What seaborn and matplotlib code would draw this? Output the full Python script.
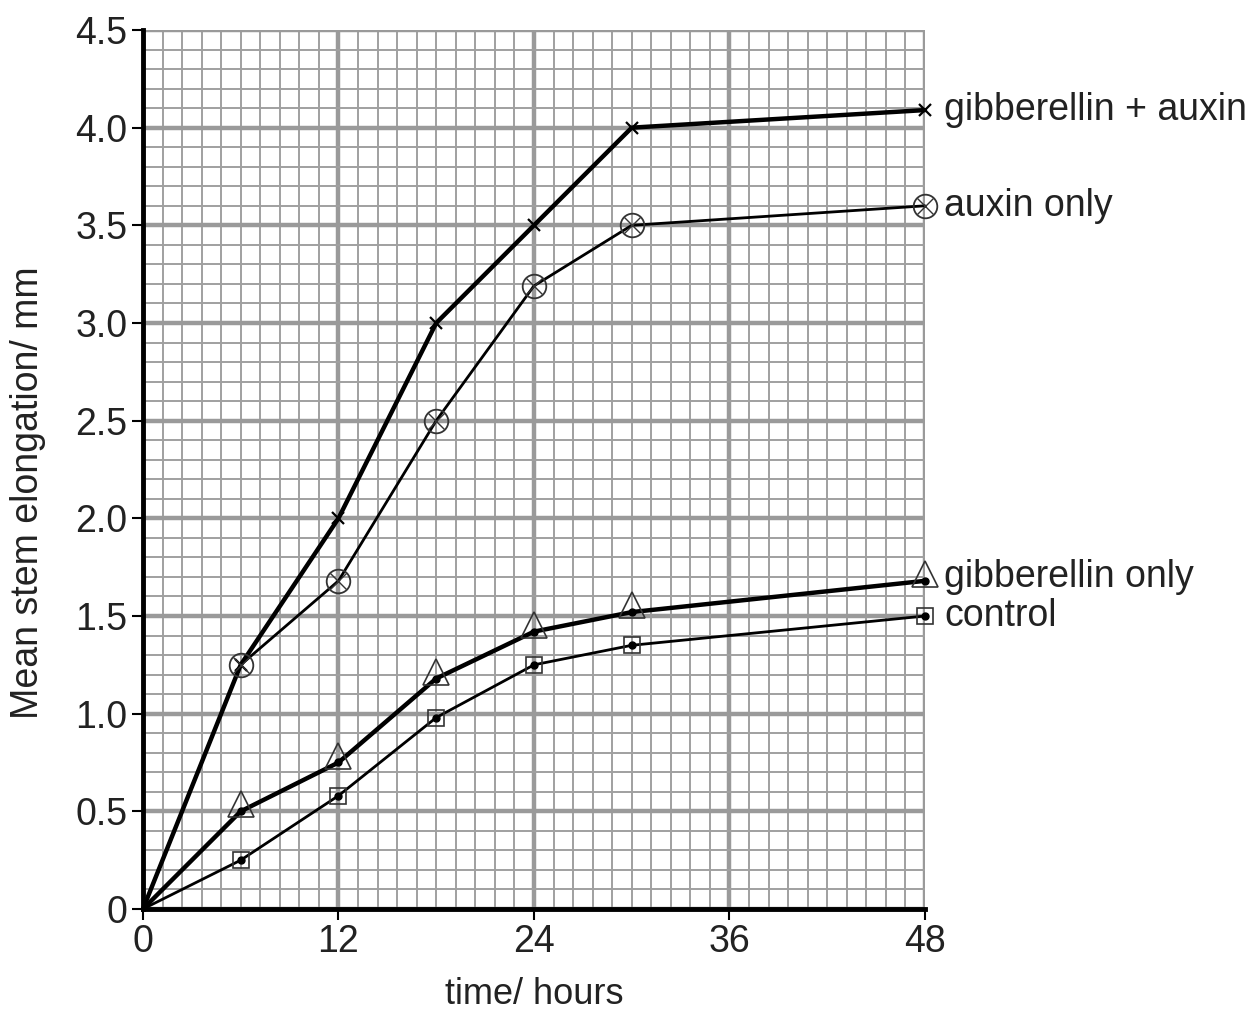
import matplotlib
matplotlib.use("Agg")
from matplotlib import pyplot as plt
import matplotlib.ticker as mtick
import pandas as pd
import seaborn as sns

hours = [0, 6, 12, 18, 24, 30, 48]
gib_auxin = [0, 1.25, 2.0, 3.0, 3.5, 4.0, 4.09]
auxin_only = [0, 1.25, 1.68, 2.5, 3.19, 3.5, 3.6]
gib_only = [0, 0.5, 0.75, 1.18, 1.42, 1.52, 1.68]
control = [0, 0.25, 0.58, 0.98, 1.25, 1.35, 1.5]

names = ["gibberellin + auxin", "auxin only", "gibberellin only", "control"]
values = [gib_auxin, auxin_only, gib_only, control]

df = pd.concat([pd.DataFrame({"time": hours, "elong": v, "treatment": n})
                for n, v in zip(names, values)], ignore_index=True)

sns.set_style("white")
plt.rcParams['font.family'] = ['Liberation Sans', 'DejaVu Sans']

f = plt.figure(figsize=(12.53, 10.10), dpi=100)
ax = f.add_axes([0.1141, 0.1000, 0.7382 - 0.1141, 0.9703 - 0.1000])

# graph paper
ax.set_xlim(0, 48)
ax.set_ylim(0, 4.5)
ax.xaxis.set_major_locator(mtick.MultipleLocator(12))
ax.xaxis.set_minor_locator(mtick.MultipleLocator(1.2))
ax.yaxis.set_major_locator(mtick.MultipleLocator(0.5))
ax.yaxis.set_minor_locator(mtick.MultipleLocator(0.1))
ax.grid(which="major", color="#9a9a9a", lw=3.2)
ax.grid(which="minor", color="#a0a0a0", lw=1.4)
ax.set_axisbelow(True)

styles = {
    "gibberellin + auxin": dict(lw=3.2),
    "auxin only": dict(lw=2.0),
    "gibberellin only": dict(lw=3.2),
    "control": dict(lw=2.0),
}
for n in names:
    sub = df[df.treatment == n]
    sns.lineplot(data=sub, x="time", y="elong", color="black", ax=ax,
                 clip_on=False, zorder=3, **styles[n])

pts = df[df.time > 0]
ga = pts[pts.treatment == "gibberellin + auxin"]
ax.plot(ga.time, ga.elong, ls="none", marker="x", ms=9, mew=1.6, color="black", zorder=4, clip_on=False)
ao = pts[pts.treatment == "auxin only"]
ax.plot(ao.time, ao.elong, ls="none", marker="o", ms=17, mfc="none", mec="#333333", mew=1.3, zorder=4, clip_on=False)
ax.plot(ao.time, ao.elong, ls="none", marker="x", ms=11, mew=1.0, color="#333333", zorder=4, clip_on=False)
go = pts[pts.treatment == "gibberellin only"]
ax.plot(go.time, go.elong + 0.035, ls="none", marker="^", ms=19, mfc="none", mec="#333333", mew=1.2, zorder=4, clip_on=False)
ax.plot(go.time, go.elong, ls="none", marker="o", ms=5, color="black", zorder=5, clip_on=False)
co = pts[pts.treatment == "control"]
ax.plot(co.time, co.elong, ls="none", marker="s", ms=11, mfc="none", mec="#333333", mew=1.2, zorder=4, clip_on=False)
ax.plot(co.time, co.elong, ls="none", marker="o", ms=5, color="black", zorder=5, clip_on=False)

# right-hand labels
label_y = {"gibberellin + auxin": 4.09, "auxin only": 3.6,
           "gibberellin only": 1.7, "control": 1.5}
for n in names:
    ax.annotate(n, xy=(48, label_y[n]), xytext=(14, 0), textcoords="offset points",
                va="center", ha="left", fontsize=27, color="#222222", annotation_clip=False)

ax.set_xticks([0, 12, 24, 36, 48])
ax.set_xticklabels(["0", "12", "24", "36", "48"])
ax.set_yticks([0, 0.5, 1, 1.5, 2, 2.5, 3, 3.5, 4, 4.5])
ax.set_yticklabels(["0", "0.5", "1.0", "1.5", "2.0", "2.5", "3.0", "3.5", "4.0", "4.5"])
ax.tick_params(which="major", length=8, width=1.5, color="black", labelsize=27,
               labelcolor="#222222", pad=3, direction="out", bottom=True, left=True)
ax.tick_params(which="minor", length=0)

for s in ["top", "right"]:
    ax.spines[s].set_visible(False)
for s in ["left", "bottom"]:
    ax.spines[s].set_color("black")
    ax.spines[s].set_linewidth(3.5)
    ax.spines[s].set_zorder(6)

ax.set_xlabel("time/ hours", fontsize=26, color="#222222", labelpad=12)
ax.set_ylabel("Mean stem elongation/ mm", fontsize=27, color="#222222")
ax.yaxis.set_label_coords(-0.124, 0.474)

f.savefig("out.png", dpi=100)
